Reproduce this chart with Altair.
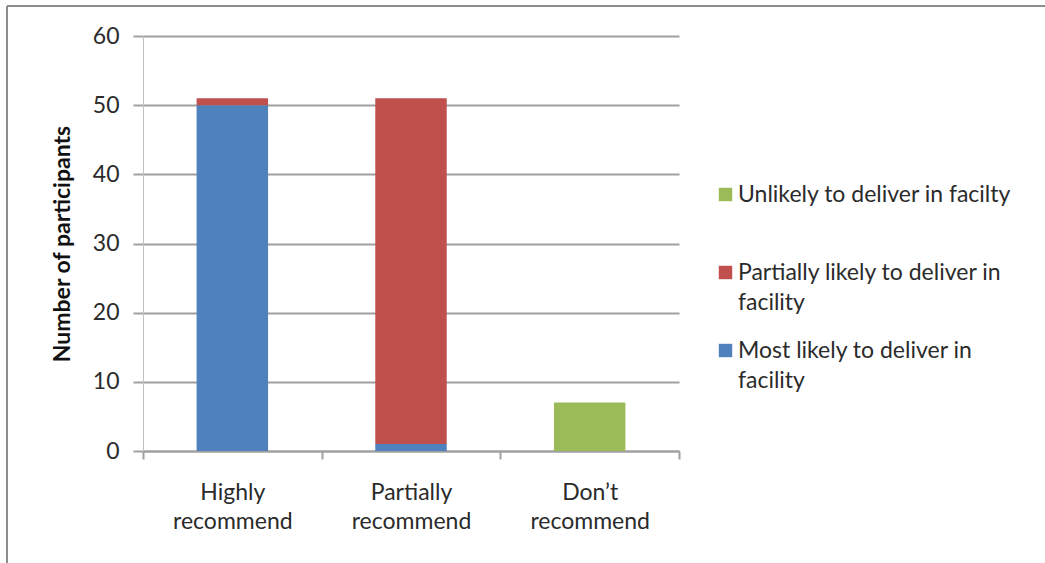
import altair as alt
import pandas as pd

# Recommendation groups on the x axis
categories = ["Highly recommend", "Partially recommend", "Don’t recommend"]

# Likelihood series (stack order: bottom to top)
series = [
    "Most likely to deliver in facility",
    "Partially likely to deliver in facility",
    "Unlikely to deliver in facilty",
]
colors = ["#4F81BD", "#C0504D", "#9BBB59"]

# Counts per series, one value per category
most_likely = [50, 1, 0]
partially_likely = [1, 50, 0]
unlikely = [0, 0, 7]

rows = []
for i, cat in enumerate(categories):
    for j, (name, vals) in enumerate(zip(series, [most_likely, partially_likely, unlikely])):
        if vals[i] > 0:
            rows.append({"group": cat, "series": name, "count": vals[i], "stack": j})
df = pd.DataFrame(rows)

FONT = "Lato"
FS = 23
GRAY = "#A0A0A0"
TEXT = "#2b2b2b"

legend_order = list(reversed(series))
legend_colors = list(reversed(colors))

x_enc = alt.X(
    "group:N",
    sort=categories,
    scale=alt.Scale(paddingInner=0, paddingOuter=0),
    axis=alt.Axis(
        title=None,
        labelAngle=0,
        tickBand="extent",
        tickSize=8,
        tickColor=GRAY,
        tickWidth=2,
        domainColor=GRAY,
        domainWidth=2,
        labelPadding=22,
        labelFontSize=FS,
        labelColor=TEXT,
        labelFont=FONT,
        labelLineHeight=29,
        labelExpr="split(datum.label, ' ')",
        grid=False,
    ),
)

# Legend labels wrap onto two lines; the single-line entry gets a blank
# second line so every row has the same height.
legend_label = (
    "datum.label == 'Unlikely to deliver in facilty' ? ['Unlikely to deliver in facilty', ''] : "
    "datum.label == 'Partially likely to deliver in facility' ? ['Partially likely to deliver in', 'facility'] : "
    "['Most likely to deliver in', 'facility']"
)

bars = alt.Chart(df).mark_bar(width={"band": 0.4}).encode(
    x=x_enc,
    y=alt.Y(
        "sum(count):Q",
        scale=alt.Scale(domain=[0, 60]),
        axis=alt.Axis(
            title="Number of participants",
            titleFont=FONT,
            titleFontSize=FS,
            titleFontWeight="bold",
            titleColor="#111111",
            titlePadding=18,
            values=[0, 10, 20, 30, 40, 50, 60],
            labelFont=FONT,
            labelFontSize=FS,
            labelColor=TEXT,
            labelPadding=14,
            tickSize=10,
            tickColor=GRAY,
            tickWidth=2,
            domainColor="#C0C0C0",
            domainWidth=1,
            gridColor=GRAY,
            gridWidth=2,
        ),
    ),
    color=alt.Color(
        "series:N",
        scale=alt.Scale(domain=legend_order, range=legend_colors),
        legend=alt.Legend(
            title=None,
            orient="none",
            legendX=571,
            legendY=147,
            symbolType="square",
            symbolSize=180,
            symbolStrokeWidth=0,
            labelFont=FONT,
            labelFontSize=FS,
            labelColor=TEXT,
            labelLimit=400,
            labelBaseline="middle",
            labelOffset=1,
            labelExpr=legend_label,
            rowPadding=24,
        ),
    ),
    order=alt.Order("stack:Q", sort="ascending"),
)

# Thin frame along the top and left edges of the figure
frame_df = pd.DataFrame({"k": [0]})
top_edge = alt.Chart(frame_df).mark_rule(color="#8C8C8C", strokeWidth=2).encode(
    x=alt.value(-136), x2=alt.value(902), y=alt.value(-30)
)
left_edge = alt.Chart(frame_df).mark_rule(color="#8C8C8C", strokeWidth=2).encode(
    x=alt.value(-136), y=alt.value(-30), y2=alt.value(527)
)

chart = (
    alt.layer(bars, top_edge, left_edge)
    .properties(
        width=536,
        height=415,
        autosize=alt.AutoSizeParams(type="none"),
        padding={"left": 143, "top": 36, "right": 366, "bottom": 112},
    )
    .configure(
        background="white",
        view={"stroke": None},
        style={"guide-label": {"lineHeight": 30}},
    )
)

chart.save("out.html", embed_options={"renderer": "svg", "actions": False})
